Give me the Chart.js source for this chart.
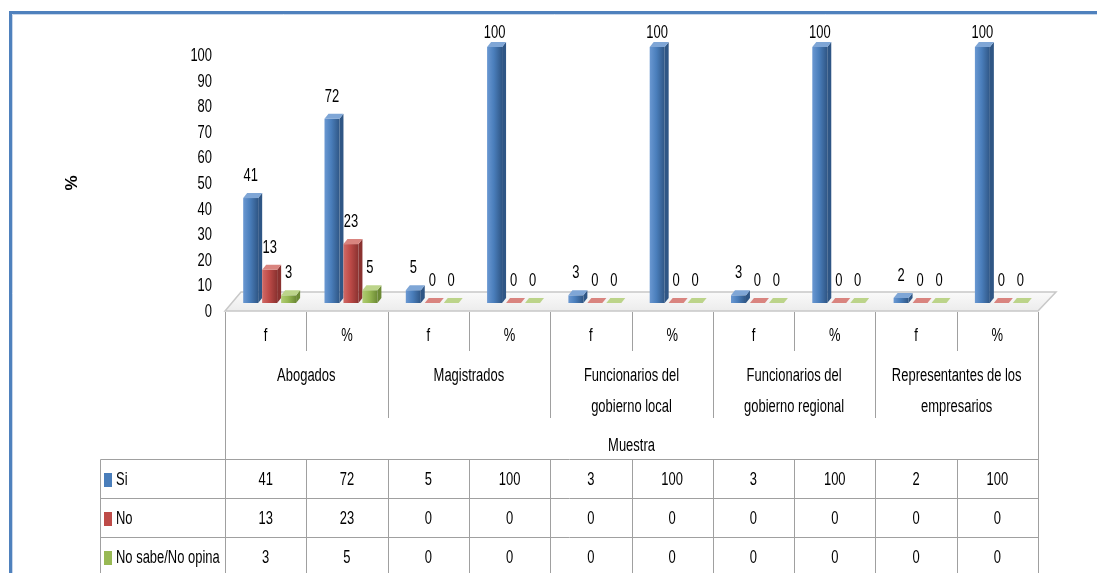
<!DOCTYPE html>
<html>
<head>
<meta charset="utf-8">
<script src="https://cdn.jsdelivr.net/npm/chart.js@4"></script>
<style>
  html, body { margin: 0; padding: 0; background: #fff; }
  canvas { display: block; }
</style>
</head>
<body>
<canvas id="chart" width="1097" height="573"></canvas>
<script>
// 데이터
const seriesNames = ["Si", "No", "No sabe/No opina"];
const columnLabels = ["f", "%", "f", "%", "f", "%", "f", "%", "f", "%"];
const groupLabels = [
  ["Abogados"],
  ["Magistrados"],
  ["Funcionarios del", "gobierno local"],
  ["Funcionarios del", "gobierno regional"],
  ["Representantes de los", "empresarios"],
];
const xTitle = "Muestra";
const yTitle = "%";
const siValues = [41, 72, 5, 100, 3, 100, 3, 100, 2, 100];
const noValues = [13, 23, 0, 0, 0, 0, 0, 0, 0, 0];
const noSabeValues = [3, 5, 0, 0, 0, 0, 0, 0, 0, 0];

// 색상 (앞면, 옆면, 윗면, 밝은 쪽)
const palette = [
  { base: "#4a7ebb", side: "#2f5685", top: "#7fa6d6", light: "#6a98d2" },
  { base: "#be4b48", side: "#8a3230", top: "#d9847f", light: "#d06a66" },
  { base: "#98b954", side: "#6c8a35", top: "#bcd48a", light: "#afcc73" },
];

const FONT = '18px "Liberation Sans", Arial, sans-serif';
const SX = 0.72; // 글자 가로 압축
const LINE = "#a0a0a0";
const SHIFT = 6; // 3D 막대 가로 이동
const DX = 4;
const DY = 5;

// 좁은 글자 그리기
function drawText(ctx, text, x, y, align) {
  ctx.save();
  ctx.translate(x, y);
  ctx.scale(SX, 1);
  ctx.textAlign = align || "center";
  ctx.fillText(text, 0, 0);
  ctx.restore();
}

// 바닥 + 3D 막대
const bars3d = {
  id: "bars3d",
  beforeDatasetDraw() {
    return false;
  },
  beforeDatasetsDraw(chart) {
    const { ctx, chartArea, scales } = chart;
    const y0 = scales.y.getPixelForValue(0);

    // 바닥
    ctx.save();
    const fl = chartArea.left, fr = chartArea.right;
    ctx.beginPath();
    ctx.moveTo(fl, y0 + 8);
    ctx.lineTo(fr, y0 + 8);
    ctx.lineTo(fr + 18, y0 - 11);
    ctx.lineTo(fl + 16, y0 - 11);
    ctx.closePath();
    const g = ctx.createLinearGradient(0, y0 - 11, 0, y0 + 8);
    g.addColorStop(0, "#fafafa");
    g.addColorStop(1, "#ececec");
    ctx.fillStyle = g;
    ctx.fill();
    ctx.strokeStyle = "#c8c8c8";
    ctx.lineWidth = 1.5;
    ctx.stroke();
    ctx.restore();

    chart.data.datasets.forEach((ds, i) => {
      const meta = chart.getDatasetMeta(i);
      const c = palette[i];
      meta.data.forEach((el) => {
        const w = el.width;
        const x0 = el.x - w / 2 + SHIFT;
        const fw = w - DX;
        const top = el.y;
        const base = el.base;
        ctx.save();
        // 옆면
        ctx.beginPath();
        ctx.moveTo(x0 + fw, base);
        ctx.lineTo(x0 + fw, top);
        ctx.lineTo(x0 + fw + DX, top - DY);
        ctx.lineTo(x0 + fw + DX, base - DY);
        ctx.closePath();
        ctx.fillStyle = c.side;
        ctx.fill();
        // 앞면
        if (base - top > 0.5) {
          const fg = ctx.createLinearGradient(x0, 0, x0 + fw, 0);
          fg.addColorStop(0, c.light);
          fg.addColorStop(0.45, c.base);
          fg.addColorStop(1, c.side);
          ctx.fillStyle = fg;
          ctx.fillRect(x0, top, fw, base - top);
        }
        // 윗면
        ctx.beginPath();
        ctx.moveTo(x0, top);
        ctx.lineTo(x0 + fw, top);
        ctx.lineTo(x0 + fw + DX, top - DY);
        ctx.lineTo(x0 + DX, top - DY);
        ctx.closePath();
        ctx.fillStyle = c.top;
        ctx.fill();
        ctx.restore();
      });
    });
  },
  afterDatasetsDraw(chart) {
    const { ctx } = chart;
    ctx.save();
    ctx.font = FONT;
    ctx.fillStyle = "#000";
    ctx.textBaseline = "middle";
    chart.data.datasets.forEach((ds, i) => {
      const meta = chart.getDatasetMeta(i);
      meta.data.forEach((el, j) => {
        const y = Math.max(el.y - 22, 33);
        drawText(ctx, String(ds.data[j]), el.x + SHIFT - 2, y);
      });
    });
    ctx.restore();
  },
};

// y축 눈금, 데이터 표, 테두리
const dataTable = {
  id: "dataTable",
  afterDraw(chart) {
    const { ctx, chartArea, scales } = chart;
    const xs = scales.x;
    const ys = scales.y;
    const n = columnLabels.length;
    const half = (xs.getPixelForValue(1) - xs.getPixelForValue(0)) / 2;
    const left = chartArea.left;
    const right = chartArea.right;
    const edge = (i) => Math.round(xs.getPixelForValue(i) - half) + 0.5;
    const topY = 312;
    const rowTop = 459.5;
    const rowH = 39;
    const legLeft = 100.5;
    const bottom = 573;

    ctx.save();
    ctx.font = FONT;
    ctx.fillStyle = "#000";
    ctx.textBaseline = "middle";

    // y축 눈금 글자
    ys.ticks.forEach((t) => {
      drawText(ctx, String(t.value), left - 13, ys.getPixelForValue(t.value) + 9, "right");
    });

    ctx.strokeStyle = LINE;
    ctx.lineWidth = 1;
    ctx.beginPath();
    // 세로선
    ctx.moveTo(Math.round(left) + 0.5, topY);
    ctx.lineTo(Math.round(left) + 0.5, bottom);
    ctx.moveTo(Math.round(right) + 0.5, topY);
    ctx.lineTo(Math.round(right) + 0.5, bottom);
    for (let i = 1; i < n; i++) {
      const x = edge(i);
      ctx.moveTo(x, topY);
      ctx.lineTo(x, i % 2 === 1 ? 351 : 418);
      ctx.moveTo(x, rowTop);
      ctx.lineTo(x, bottom);
    }
    ctx.moveTo(legLeft, rowTop);
    ctx.lineTo(legLeft, bottom);
    // 가로선
    for (let r = 0; r < 3; r++) {
      const y = rowTop + r * rowH;
      ctx.moveTo(legLeft, y);
      ctx.lineTo(Math.round(right) + 0.5, y);
    }
    ctx.stroke();

    columnLabels.forEach((lab, i) => {
      drawText(ctx, lab, xs.getPixelForValue(i), 336);
    });
    groupLabels.forEach((lines, g) => {
      const cx = (xs.getPixelForValue(g * 2) + xs.getPixelForValue(g * 2 + 1)) / 2;
      lines.forEach((t, k) => drawText(ctx, t, cx, 376 + k * 31));
    });
    drawText(ctx, xTitle, (left + right) / 2, 446);

    const rows = [siValues, noValues, noSabeValues];
    rows.forEach((vals, r) => {
      const cy = 480 + r * rowH;
      vals.forEach((v, i) => drawText(ctx, String(v), xs.getPixelForValue(i), cy));
      ctx.fillStyle = palette[r].base;
      ctx.fillRect(104, cy - 7, 8, 14);
      ctx.fillStyle = "#000";
      drawText(ctx, seriesNames[r], 116, cy, "left");
    });

    // y축 제목
    ctx.save();
    ctx.translate(72, 183);
    ctx.rotate(-Math.PI / 2);
    ctx.font = 'bold 17px "Liberation Sans", Arial, sans-serif';
    ctx.textAlign = "center";
    ctx.fillText(yTitle, 0, 0);
    ctx.restore();

    // 바깥 테두리
    ctx.strokeStyle = "#4f81bd";
    ctx.lineWidth = 3;
    ctx.beginPath();
    ctx.moveTo(10.5, 573);
    ctx.lineTo(10.5, 12.5);
    ctx.lineTo(1097, 12.5);
    ctx.stroke();
    ctx.strokeStyle = "#c9d7ea";
    ctx.lineWidth = 1;
    ctx.beginPath();
    ctx.moveTo(12.5, 573);
    ctx.lineTo(12.5, 14.5);
    ctx.lineTo(1097, 14.5);
    ctx.stroke();
    ctx.restore();
  },
};

const ctx = document.getElementById("chart").getContext("2d");
new Chart(ctx, {
  type: "bar",
  data: {
    labels: columnLabels,
    datasets: [
      { label: seriesNames[0], data: siValues, backgroundColor: palette[0].base },
      { label: seriesNames[1], data: noValues, backgroundColor: palette[1].base },
      { label: seriesNames[2], data: noSabeValues, backgroundColor: palette[2].base },
    ],
  },
  options: {
    responsive: false,
    devicePixelRatio: 1,
    animation: false,
    categoryPercentage: 0.7,
    barPercentage: 1,
    layout: {
      padding: { left: 0, right: 59, top: 47, bottom: 270 },
    },
    plugins: {
      legend: { display: false },
      title: { display: false },
      tooltip: { enabled: false },
    },
    scales: {
      x: {
        display: false,
      },
      y: {
        min: 0,
        max: 100,
        afterFit: (s) => {
          s.width = 225;
        },
        grid: { display: false, drawTicks: false },
        border: { display: false },
        ticks: {
          display: false,
          stepSize: 10,
        },
      },
    },
  },
  plugins: [bars3d, dataTable],
});
</script>
</body>
</html>
